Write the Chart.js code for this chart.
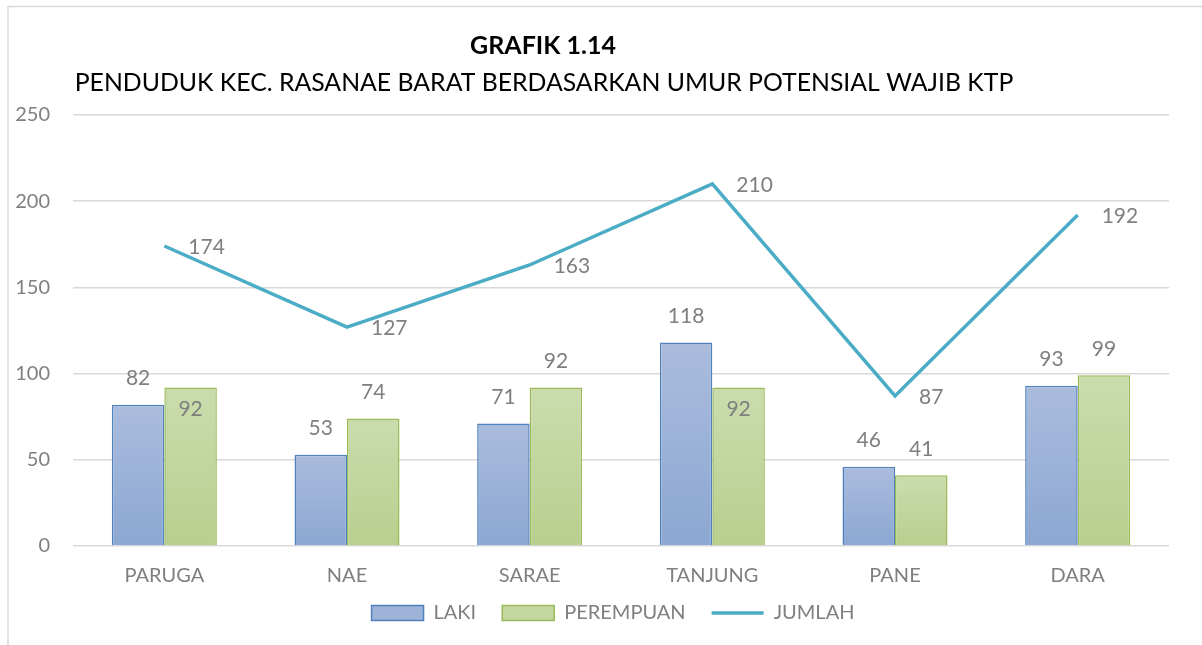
<!DOCTYPE html>
<html>
<head>
<meta charset="utf-8">
<script src="https://cdn.jsdelivr.net/npm/chart.js@4"></script>
<style>
  html, body { margin: 0; padding: 0; background: #fff; }
  canvas { display: block; }
</style>
</head>
<body>
<canvas id="chart" width="1202" height="645"></canvas>
<script>
const categories = ['PARUGA', 'NAE', 'SARAE', 'TANJUNG', 'PANE', 'DARA'];
const laki = [82, 53, 71, 118, 46, 93];
const perempuan = [92, 74, 92, 92, 41, 99];
const jumlah = [174, 127, 163, 210, 87, 192];
const seriesNames = ['LAKI', 'PEREMPUAN', 'JUMLAH'];
const yMin = 0, yMax = 250, yStep = 50;
const titleText = 'GRAFIK 1.14';
const subtitleText = 'PENDUDUK KEC. RASANAE BARAT BERDASARKAN UMUR POTENSIAL WAJIB KTP';

const FONT = 'Lato, "Open Sans", sans-serif';
const GRAY = '#7f7f7f';

// per-bar vertical gradient, like the Excel fill
function barGradient(top, bottom, fallback) {
  return (ctx) => {
    const chart = ctx.chart;
    if (!chart.chartArea || ctx.dataIndex === undefined || ctx.type !== 'data') return fallback;
    const ys = chart.scales.y;
    const v = ctx.dataset.data[ctx.dataIndex];
    const y0 = ys.getPixelForValue(v), y1 = ys.getPixelForValue(0);
    const g = chart.ctx.createLinearGradient(0, y0, 0, y1);
    g.addColorStop(0, top);
    g.addColorStop(1, bottom);
    return g;
  };
}

const frame = {
  id: 'frame',
  afterLayout(chart) {
    // nudge the legend up/left to where the original sits
    const lg = chart.legend;
    lg.top -= 11; lg.bottom -= 11;
    lg.left -= 8; lg.right -= 8;
  },
  beforeDraw(chart) {
    const c = chart.ctx;
    c.save();
    c.strokeStyle = '#d9d9d9';
    c.lineWidth = 1.5;
    c.beginPath();
    c.moveTo(8, 645);
    c.lineTo(8, 6.5);
    c.lineTo(1202, 6.5);
    c.stroke();
    c.fillStyle = '#000';
    c.textAlign = 'center';
    c.textBaseline = 'middle';
    c.font = 'bold 25px ' + FONT;
    c.fillText(titleText, 543, 46);
    c.font = '24.8px ' + FONT;
    c.fillText(subtitleText, 544, 83);
    c.restore();
  }
};

const valueLabels = {
  id: 'valueLabels',
  afterDatasetsDraw(chart, args, opts) {
    const c = chart.ctx;
    c.save();
    c.fillStyle = GRAY;
    c.font = '21px ' + FONT;
    c.textBaseline = 'middle';
    chart.data.datasets.forEach((ds, di) => {
      const meta = chart.getDatasetMeta(di);
      meta.data.forEach((el, i) => {
        const txt = String(ds.data[i]);
        if (ds.type === 'line') {
          c.textAlign = 'left';
          c.fillText(txt, el.x + 24, el.y + 1);
        } else {
          c.textAlign = 'center';
          const inside = (opts.inside[di] || []).includes(i);
          c.fillText(txt, el.x, inside ? el.y + 22 : el.y - 26);
        }
      });
    });
    c.restore();
  }
};

const fills = ['#9db3d8', '#c3d7a0', '#4bacc6'];

new Chart(document.getElementById('chart'), {
  type: 'bar',
  data: {
    labels: categories,
    datasets: [
      {
        label: seriesNames[0],
        data: laki,
        backgroundColor: barGradient('#aabcdc', '#8ca7d3', fills[0]),
        borderColor: '#4f81bd',
        borderWidth: 1.5,
        pointStyle: 'rect',
        categoryPercentage: 0.575,
        barPercentage: 1,
        order: 2
      },
      {
        label: seriesNames[1],
        data: perempuan,
        backgroundColor: barGradient('#cadcad', '#b8cf8e', fills[1]),
        borderColor: '#9bbb59',
        borderWidth: 1.5,
        pointStyle: 'rect',
        categoryPercentage: 0.575,
        barPercentage: 1,
        order: 2
      },
      {
        type: 'line',
        label: seriesNames[2],
        data: jumlah,
        borderColor: '#4bacc6',
        backgroundColor: '#4bacc6',
        borderWidth: 3.5,
        pointRadius: 0,
        pointStyle: 'line',
        tension: 0,
        order: 1
      }
    ]
  },
  options: {
    responsive: false,
    animation: false,
    layout: { padding: { left: 0, right: 33, top: 115, bottom: 1 } },
    scales: {
      x: {
        grid: { display: false },
        border: { display: false },
        ticks: { color: GRAY, font: { family: FONT, size: 20 }, padding: 10, maxRotation: 0, autoSkip: false },
        afterFit(s) { s.height = 42; }
      },
      y: {
        min: yMin,
        max: yMax,
        ticks: { stepSize: yStep, color: GRAY, font: { family: FONT, size: 20 }, padding: 23 },
        grid: { color: '#d9d9d9', lineWidth: 1.5, drawTicks: false },
        border: { display: false },
        afterFit(s) { s.width = 73; }
      }
    },
    plugins: {
      legend: {
        position: 'bottom',
        fullSize: false,
        labels: {
          usePointStyle: true,
          pointStyleWidth: 52,
          boxHeight: 15,
          padding: 26,
          color: GRAY,
          font: { family: FONT, size: 20 },
          sort: (a, b) => a.datasetIndex - b.datasetIndex,
          generateLabels(chart) {
            const items = Chart.defaults.plugins.legend.labels.generateLabels(chart);
            items.forEach((it) => {
              it.fillStyle = fills[it.datasetIndex];
              it.lineWidth = it.datasetIndex === 2 ? 3.5 : 1.5;
            });
            return items;
          }
        }
      },
      tooltip: { enabled: false },
      valueLabels: { inside: { 1: [0, 3] } }
    }
  },
  plugins: [frame, valueLabels]
});
</script>
</body>
</html>
